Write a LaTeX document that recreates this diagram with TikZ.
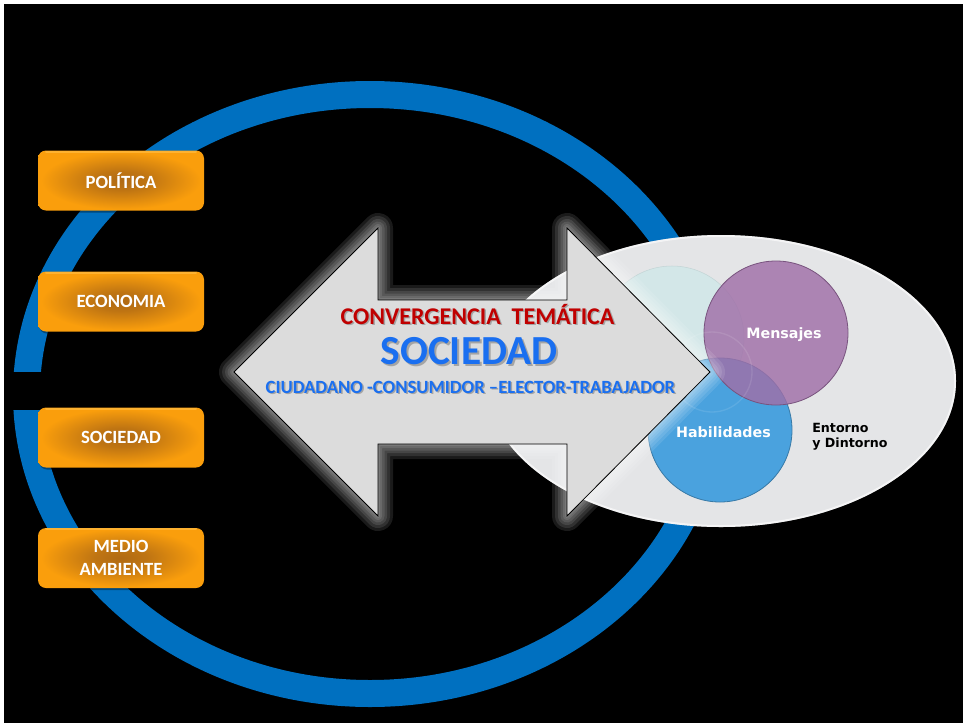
\documentclass[tikz,border=0pt]{standalone}
\usepackage{fontspec}
\setmainfont{Carlito}
\newfontfamily\verdf{DejaVu Sans}
\definecolor{ringblue}{HTML}{0070C0}
\definecolor{oorange}{HTML}{FA9E0C}
\definecolor{olight}{HTML}{FFB73A}
\definecolor{obrown}{HTML}{B06A14}
\definecolor{arrgray}{HTML}{DCDCDC}
\definecolor{ellgray}{HTML}{E4E5E7}
\definecolor{ellrim}{HTML}{F4F4F6}
\definecolor{purp}{HTML}{A06FA8}
\definecolor{hblue}{HTML}{4AA2DE}
\definecolor{tealc}{HTML}{D2E8E9}
\definecolor{redt}{HTML}{C00000}
\definecolor{bluet}{HTML}{1A6FF0}
\pgfdeclareradialshading{boxshade}{\pgfpoint{0bp}{0bp}}{color(0bp)=(obrown); color(8bp)=(obrown!80!oorange); color(24bp)=(oorange); color(50bp)=(oorange)}
\pgfdeclareradialshading{ellshade}{\pgfpoint{0bp}{0bp}}{color(0bp)=(ellgray); color(40bp)=(ellgray); color(47bp)=(ellgray!85!gray); color(50bp)=(ellrim)}
\begin{document}
\begin{tikzpicture}[x=0.75pt,y=-0.75pt,
  topic/.style={rounded corners=6pt, minimum width=124.5pt, minimum height=45pt,
    shading=boxshade, text=white, inner sep=0pt, align=center,
    font=\bfseries\fontsize{14}{17}\selectfont},
  bubble/.style={circle, minimum size=108pt, inner sep=0pt},
  bubtext/.style={anchor=base, inner sep=0pt, text=white, font=\verdf\bfseries\fontsize{10.7}{13}\selectfont},
  arrtext/.style={anchor=base, inner sep=0pt, font=\bfseries},
  glow/.style={draw=white, line join=round, opacity=0.10},
  shadowtxt/.style={arrtext, text=black, opacity=0.25}
]
% background
\useasboundingbox (0,0) rectangle (963,725);
\fill[white] (0,0) rectangle (963,725);
\fill[black] (4,4) rectangle (963,723);
% blue ring
\fill[ringblue, even odd rule] (370,394) ellipse [x radius=267.75pt, y radius=234.75pt]
  (370,394) ellipse [x radius=247.5pt, y radius=214.5pt];
\fill[black] (4,372) rectangle (70,410);
% orange boxes
\foreach \cy in {180.5,301.5,437.5,558}{
  \fill[black, opacity=0.35, rounded corners=6pt] (39,\cy-28) rectangle (206,\cy+32);
}
\node[topic] (pol) at (121,180.5) {POLÍTICA};
\node[topic] (eco) at (121,301.5) {ECONOMIA};
\node[topic] (soc) at (121,437.5) {SOCIEDAD};
\node[topic] (med) at (121,558) {MEDIO\\AMBIENTE};
\foreach \cy in {180.5,301.5,437.5,558}{
  \draw[olight, line width=1.5pt, opacity=0.8, line cap=round] (46,\cy-29) -- (196,\cy-29);
}
% gray ellipse
\path[shading=ellshade] (721,381) ellipse [x radius=176.25pt, y radius=109.5pt];
\draw[white, opacity=0.6, line width=1.5pt] (721,381) ellipse [x radius=175.5pt, y radius=108.75pt];
% circles
\node[bubble, fill=tealc, draw=tealc!80!gray, opacity=0.9] (tea) at (672,338) {};
\node[bubble, fill=hblue, draw=hblue!75!black, line width=0.6pt] (hab) at (720,430) {};
\node[bubble, fill=purp, draw=purp!75!black, line width=0.6pt, fill opacity=0.82] (men) at (776,333) {};
\draw[white, opacity=0.10, line width=1pt] (712,372) circle [radius=30pt];
\node[bubtext] (mtx) at (784,338) {Mensajes};
\node[bubtext] (htx) at (723.5,437) {Habilidades};
\node[anchor=base west, align=left, inner sep=0pt, text=black, font=\verdf\bfseries\fontsize{9.5}{11.25}\selectfont] (ent) at (812,447) {Entorno\\y Dintorno};
% arrow glow
\foreach \w in {30,24,18,13,8,4}{
  \draw[glow, line width=\w*0.75pt] (234,372) -- (378,228) -- (378,300) -- (567,300) -- (567,228) -- (710,372) -- (567,516) -- (567,444) -- (378,444) -- (378,516) -- cycle;
}
\draw[fill=arrgray, draw=black, line width=0.6pt, line join=miter] (234,372) -- (378,228) -- (378,300) -- (567,300) -- (567,228) -- (710,372) -- (567,516) -- (567,444) -- (378,444) -- (378,516) -- cycle;
% arrow texts
\node[shadowtxt, font=\bfseries\fontsize{18}{20}\selectfont] at (479,325.5) {CONVERGENCIA\ \ TEMÁTICA};
\node[arrtext, text=redt, font=\bfseries\fontsize{18}{20}\selectfont] (conv) at (477.5,324) {CONVERGENCIA\ \ TEMÁTICA};
\node[shadowtxt, font=\bfseries\fontsize{31}{34}\selectfont] at (471,366) {SOCIEDAD};
\node[arrtext, text=bluet, font=\bfseries\fontsize{31}{34}\selectfont] (socd) at (469,364) {SOCIEDAD};
\node[shadowtxt, font=\bfseries\fontsize{14}{16}\selectfont] at (472,394.5) {CIUDADANO -CONSUMIDOR –ELECTOR-TRABAJADOR};
\node[arrtext, text=bluet, font=\bfseries\fontsize{14}{16}\selectfont] (roles) at (470.5,393) {CIUDADANO -CONSUMIDOR –ELECTOR-TRABAJADOR};
\end{tikzpicture}
\end{document}
